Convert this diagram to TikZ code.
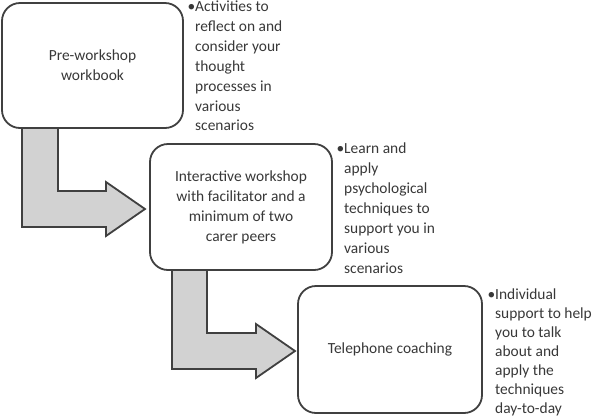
\documentclass[tikz,border=0pt]{standalone}
\usepackage{fontspec}
\setmainfont{Carlito}
\definecolor{edge}{HTML}{404040}
\definecolor{txt}{HTML}{383838}
\definecolor{arrowfill}{HTML}{D2D2D2}
\begin{document}
\begin{tikzpicture}[x=1bp,y=-1bp,
  stepbox/.style={draw=edge,line width=1.8bp,fill=white,rounded corners=18bp,
    text=txt,align=center,inner sep=0pt,font=\fontsize{15.5}{20}\selectfont},
  blockarrow/.style={draw=edge,line width=1.8bp,fill=arrowfill,line join=miter},
  note/.style={anchor=north west,text=txt,align=left,inner sep=0pt,
    font=\fontsize{15.5}{20}\selectfont}]
\useasboundingbox (0,0) rectangle (606,417);
% block arrows
\draw[blockarrow] (22,128) -- (58,128) -- (58,191) -- (106,191) -- (106,182)
  -- (145,209) -- (106,236) -- (106,227) -- (22,227) -- cycle;
\draw[blockarrow] (172,270) -- (207,270) -- (207,333) -- (256,333) -- (256,324)
  -- (295,351) -- (256,378) -- (256,369) -- (172,369) -- cycle;
% boxes
\node[stepbox,minimum width=181bp,minimum height=125bp] (b1) at (92.5,65.5)
  {Pre-workshop\\workbook};
\node[stepbox,minimum width=182bp,minimum height=126bp] (b2) at (241,207)
  {Interactive workshop\\with facilitator and a\\minimum of two\\carer peers};
\node[stepbox,minimum width=184bp,minimum height=127bp] (b3) at (390,349.5)
  {Telephone coaching};
% notes
\node[note] (n1) at (195,0.5)
  {\llap{\textbullet}Activities to\\reflect on and\\consider your\\thought\\processes in\\various\\scenarios};
\node[note] (n2) at (344,143)
  {\llap{\textbullet}Learn and\\apply\\psychological\\techniques to\\support you in\\various\\scenarios};
\node[note,font=\fontsize{15.5}{19}\selectfont] (n3) at (495,289)
  {\llap{\textbullet}Individual\\support to help\\you to talk\\about and\\apply the\\techniques\\day-to-day};
\end{tikzpicture}
\end{document}
